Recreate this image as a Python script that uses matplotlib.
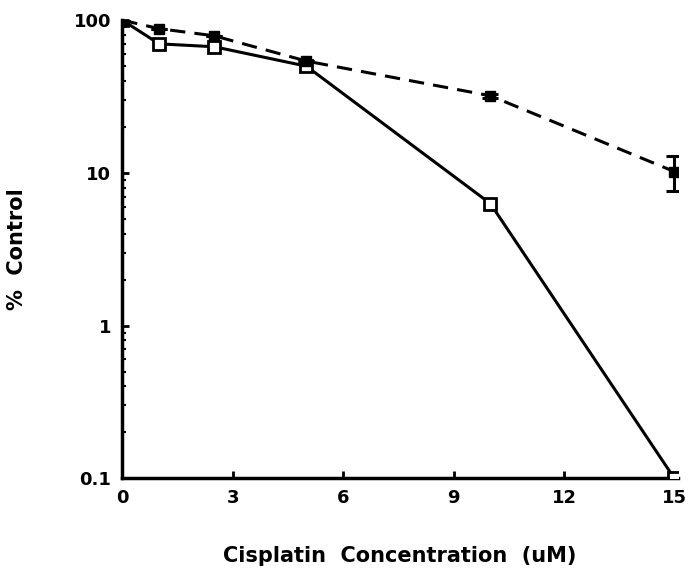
import matplotlib
matplotlib.use("Agg")
import matplotlib.pyplot as plt
from matplotlib.ticker import FixedLocator, LogLocator, NullFormatter

# data
conc = [0, 1, 2.5, 5, 10, 15]
open_sq = [100, 70, 67, 50, 6.3, 0.1]
filled_sq = [100, 88, 79, 54, 32, 10.2]
filled_err_lo = [0, 0, 0, 0, 1.0, 2.6]
filled_err_hi = [0, 0, 0, 0, 1.0, 2.7]

xticks = [0, 3, 6, 9, 12, 15]
yticks = [0.1, 1, 10, 100]
ylabels = ["0.1", "1", "10", "100"]

fig = plt.figure(figsize=(6.99, 5.77), dpi=100)
ax = fig.add_axes([0.175, 0.171, 0.795, 0.794])

ax.plot(conc, open_sq, color="black", lw=2.2, marker="s", ms=8,
        mfc="white", mec="black", mew=2, zorder=3)
ax.errorbar(conc, filled_sq, yerr=[filled_err_lo, filled_err_hi], color="black",
            lw=2.2, ls=(0, (5, 3)), marker="s", ms=7, mfc="black", mec="black",
            capsize=6, capthick=2.2, elinewidth=2.2, zorder=4)

ax.set_yscale("log")
ax.set_xlim(0, 15.1)
ax.set_ylim(0.1, 100)
ax.xaxis.set_major_locator(FixedLocator(xticks))
ax.yaxis.set_major_locator(FixedLocator(yticks))
ax.set_yticklabels(ylabels)
ax.yaxis.set_minor_locator(LogLocator(base=10, subs=range(2, 10)))
ax.yaxis.set_minor_formatter(NullFormatter())

for s in ["top", "right"]:
    ax.spines[s].set_visible(False)
for s in ["left", "bottom"]:
    ax.spines[s].set_linewidth(2.5)

ax.tick_params(axis="both", which="major", direction="in", length=5, width=2,
               labelsize=13, pad=8)
ax.tick_params(axis="y", which="minor", direction="in", length=3, width=1.5)
for t in ax.get_xticklabels() + ax.get_yticklabels():
    t.set_fontweight("bold")

ax.set_xlabel("Cisplatin  Concentration  (uM)", fontsize=15, fontweight="heavy",
              labelpad=28)
ax.set_ylabel("%  Control", fontsize=15, fontweight="heavy")
ax.yaxis.set_label_coords(-0.172, 0.5)

fig.savefig("out.png", dpi=100)
